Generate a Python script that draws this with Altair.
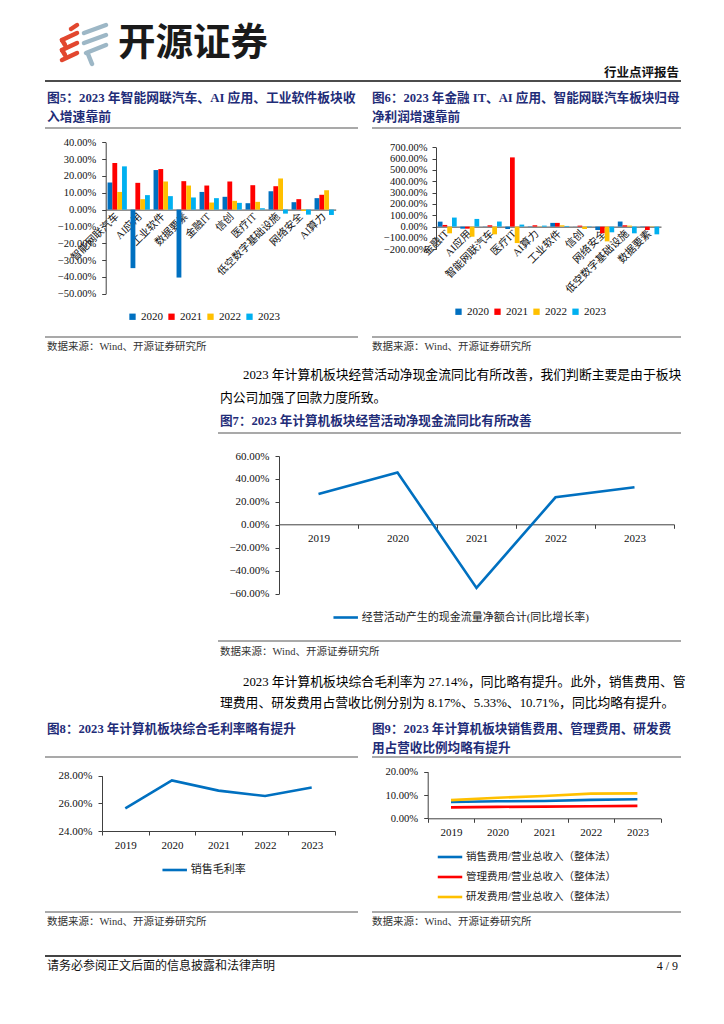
import altair as alt
import pandas as pd

# ---------------- data ----------------
years4 = ["2020", "2021", "2022", "2023"]
bar_colors = ["#0070C0", "#FF0000", "#FFC000", "#00B0F0"]

rev_cats = ["智能网联汽车", "AI应用", "工业软件", "数据要素", "金融IT", "信创",
            "医疗IT", "低空数字基础设施", "网络安全", "AI算力"]
rev_2020 = [16.1, -34.8, 23.5, -40.4, 10.5, 7.6, 3.8, 10.9, 4.4, 6.8]
rev_2021 = [27.7, 15.9, 24.1, 16.9, 14.3, 16.7, 14.5, 13.9, 6.2, 8.8]
rev_2022 = [10.5, 6.2, 16.7, 14.3, 4.2, 5.2, 4.6, 18.5, -0.8, 11.5]
rev_2023 = [25.7, 8.6, 8.0, 7.2, 6.8, 4.0, 0.8, -2.4, -3.0, -3.2]

np_cats = ["金融IT", "AI应用", "智能网联汽车", "医疗IT", "AI算力", "工业软件",
           "信创", "网络安全", "低空数字基础设施", "数据要素"]
np_2020 = [44, -18, 2, -21, -3, 33, 1, -30, 45, 3]
np_2021 = [15, -18, 12, 611, 12, 33, 9, -59, 12, -30]
np_2022 = [-59, -89, -68, -145, -2, 12, -21, -130, 9, -3]
np_2023 = [80, 68, 45, 18, 9, 6, -3, -50, -59, -68]

years5 = ["2019", "2020", "2021", "2022", "2023"]
cash_name = "经营活动产生的现金流量净额合计(同比增长率)"
cash_growth = [26.9, 45.7, -55.0, 24.0, 32.8]
gm_name = "销售毛利率"
gross_margin = [25.64, 27.66, 26.92, 26.53, 27.14]
ratio_names = ["销售费用/营业总收入（整体法）", "管理费用/营业总收入（整体法）", "研发费用/营业总收入（整体法）"]
ratio_colors = ["#0070C0", "#FF0000", "#FFC000"]
sales_ratio = [7.0, 7.3, 7.4, 7.9, 8.17]
admin_ratio = [4.7, 4.9, 5.0, 5.2, 5.33]
rd_ratio = [7.8, 8.8, 9.6, 10.6, 10.71]

# ---------------- texts ----------------
brand = "开源证券"
report_type = "行业点评报告"
t5 = ["图5：2023 年智能网联汽车、AI 应用、工业软件板块收", "入增速靠前"]
t6 = ["图6：2023 年金融 IT、AI 应用、智能网联汽车板块归母", "净利润增速靠前"]
t7 = "图7：2023 年计算机板块经营活动净现金流同比有所改善"
t8 = "图8：2023 年计算机板块综合毛利率略有提升"
t9 = ["图9：2023  年计算机板块销售费用、管理费用、研发费", "用占营收比例均略有提升"]
p1 = ["2023 年计算机板块经营活动净现金流同比有所改善，我们判断主要是由于板块", "内公司加强了回款力度所致。"]
p2 = ["2023 年计算机板块综合毛利率为 27.14%，同比略有提升。此外，销售费用、管",
      "理费用、研发费用占营收比例分别为 8.17%、5.33%、10.71%，同比均略有提升。"]
source = "数据来源：Wind、开源证券研究所"
footer_l = "请务必参阅正文后面的信息披露和法律声明"
footer_r = "4 / 9"

# ---------------- layout helpers ----------------
M = 8
W, H = 724 - 2 * M, 1024 - 2 * M


def X(v):
    return v - M


def Y(v):
    return v - M


SERIF = "Liberation Serif, Noto Sans CJK SC"
CJK = "Noto Sans CJK SC"
TBLUE = "#1F2D78"
AX = "#404040"
LAB = "#111111"
GREY = "#8c8c8c"
one = pd.DataFrame({"k": [0]})
PCT = "format(datum.value, '.2f') + '%'"


def text(x, y, s, size=12.8, bold=False, color="#000000", align="left", font=SERIF):
    return alt.Chart(one).mark_text(
        align=align, baseline="middle", fontSize=size,
        fontWeight="bold" if bold else "normal", color=color, font=font
    ).encode(x=alt.value(X(x)), y=alt.value(Y(y)), text=alt.value(s))


def hline(x0, x1, y, color=GREY, w=1.5):
    return alt.Chart(one).mark_rule(color=color, strokeWidth=w).encode(
        x=alt.value(X(x0)), x2=alt.value(X(x1)), y=alt.value(Y(y)))


def seg(x0, y0, x1, y1, color, w):
    return alt.Chart(one).mark_rule(color=color, strokeWidth=w, strokeCap="round").encode(
        x=alt.value(X(x0)), x2=alt.value(X(x1)), y=alt.value(Y(y0)), y2=alt.value(Y(y1)))


def y_axis(xpos, values, fs, pad):
    return alt.Axis(orient="left", offset=-X(xpos), values=values, labelExpr=PCT, title=None,
                    grid=False, tickSize=4, labelPadding=pad, labelFont=SERIF, labelFontSize=fs,
                    labelColor=LAB, domainColor=AX, tickColor=AX)


def bar_panel(cats, vals, x0, x1, ytop, ybot, lo, hi, step, fs_y, fs_x, pad, legx, legy):
    rows = []
    for i, c in enumerate(cats):
        for yr, arr in zip(years4, vals):
            rows.append({"cat": c, "year": yr, "v": arr[i]})
    df = pd.DataFrame(rows)
    yzero = ybot - (0 - lo) / (hi - lo) * (ybot - ytop)
    ticks = list(range(lo, hi + 1, step))
    return alt.Chart(df).mark_bar().encode(
        x=alt.X("cat:N", sort=cats,
                scale=alt.Scale(range=[X(x0), X(x1)], paddingInner=0.16, paddingOuter=0.08),
                axis=alt.Axis(orient="bottom", offset=Y(yzero) - H, title=None, ticks=False,
                              labelAngle=315, labelAlign="right", labelBaseline="middle",
                              labelPadding=5, labelFont=SERIF, labelFontSize=fs_x, labelColor=LAB,
                              domainColor=AX, labelOverlap=False, labelLimit=0)),
        xOffset=alt.XOffset("year:N", sort=years4),
        y=alt.Y("v:Q", scale=alt.Scale(domain=[lo, hi], range=[Y(ybot), Y(ytop)], nice=False, zero=False),
                axis=y_axis(x0, ticks, fs_y, pad)),
        color=alt.Color("year:N", sort=years4,
                        scale=alt.Scale(domain=years4, range=bar_colors),
                        legend=alt.Legend(orient="none", legendX=X(legx), legendY=Y(legy),
                                          direction="horizontal", title=None, symbolType="square",
                                          symbolSize=40, symbolStrokeWidth=0, labelFont=SERIF,
                                          labelFontSize=11, labelColor=LAB, columnPadding=3,
                                          labelOffset=3, padding=0)),
    )


def line_panel(names, series, colors, x0, x1, ytop, ybot, lo, hi, yvals, xaxis_y,
               fs_y, fs_x, pad, legx, legy, fs_leg, row_pad=0):
    rows = []
    for n, arr in zip(names, series):
        for yr, v in zip(years5, arr):
            rows.append({"s": n, "year": yr, "v": v})
    df = pd.DataFrame(rows)
    return alt.Chart(df).mark_line(strokeWidth=2.6).encode(
        x=alt.X("year:N", sort=years5, bandPosition=0.5,
                scale=alt.Scale(type="band", range=[X(x0), X(x1)], paddingInner=0, paddingOuter=0),
                axis=alt.Axis(orient="bottom", offset=Y(xaxis_y) - H, title=None, tickBand="extent",
                              tickSize=4, labelPadding=4, labelAngle=0, labelFont=SERIF,
                              labelFontSize=fs_x, labelColor=LAB, domainColor=AX, tickColor=AX)),
        y=alt.Y("v:Q", scale=alt.Scale(domain=[lo, hi], range=[Y(ybot), Y(ytop)], nice=False, zero=False),
                axis=y_axis(x0, yvals, fs_y, pad)),
        color=alt.Color("s:N", sort=names, scale=alt.Scale(domain=names, range=colors),
                        legend=alt.Legend(orient="none", legendX=X(legx), legendY=Y(legy),
                                          direction="vertical", title=None, symbolType="stroke",
                                          symbolSize=600, symbolStrokeWidth=2.6, labelFont=SERIF,
                                          labelFontSize=fs_leg, labelColor="#222222", labelOffset=2,
                                          rowPadding=row_pad, padding=0, labelLimit=0)),
    )


layers = []

# header: logo + brand
RED, LG = "#E2472F", "#9DB7C6"
for (a, b, c, d) in [(71, 29, 77, 25), (62, 40, 77, 33), (62, 50, 77, 43), (62, 60, 77, 53),
                     (62, 40, 65, 45), (62, 50, 65, 55)]:
    layers.append(seg(a, b, c, d, RED, 4.5))
for (a, b, c, d) in [(84, 33, 106, 25), (84, 43, 106, 35), (86, 53, 106, 45), (88, 54, 92, 64)]:
    layers.append(seg(a, b, c, d, LG, 4.5))
layers.append(text(118, 44, brand, size=37.5, bold=True, color="#1a1a1a", font=CJK))
layers.append(text(679, 73, report_type, size=12.5, bold=True, color="#111111", align="right"))
layers.append(hline(45, 681, 81, color="#111111", w=1.6))

# figure 5 / 6 titles
layers += [text(47, 98, t5[0], 12.8, True, TBLUE), text(47, 117, t5[1], 12.8, True, TBLUE),
           text(372, 98, t6[0], 12.6, True, TBLUE), text(372, 117, t6[1], 12.6, True, TBLUE),
           hline(45, 358, 128), hline(372, 681, 128)]

layers.append(bar_panel(rev_cats, [rev_2020, rev_2021, rev_2022, rev_2023],
                        105.7, 335.7, 142.3, 293.7, -50, 40, 10, 10.5, 10.4, 6, 127, 311))
layers.append(bar_panel(np_cats, [np_2020, np_2021, np_2022, np_2023],
                        436, 661, 147.3, 249.3, -200, 700, 100, 10.5, 10.5, 5, 453, 306))

layers += [hline(45, 358, 337), hline(372, 681, 337),
           text(47, 347, source, 10.5, color="#333333"), text(372, 347, source, 10.5, color="#333333")]

# paragraph 1 and figure 7
layers += [text(243, 375, p1[0]), text(220, 398, p1[1]),
           text(220, 421, t7, 12.6, True, TBLUE), hline(218, 681, 433)]
layers.append(line_panel([cash_name], [cash_growth], ["#0070C0"], 279, 674, 456, 593.7, -60, 60,
                         [-60, -40, -20, 0, 20, 40, 60], 524.3, 11, 11, 6, 331.7, 603.5, 11))
layers += [hline(218, 681, 641), text(220, 652, source, 10.5, color="#333333")]

# paragraph 2 and figures 8/9
layers += [text(243, 682, p2[0]), text(220, 703, p2[1]),
           text(47, 729, t8, 12.6, True, TBLUE),
           text(372, 729, t9[0], 12.6, True, TBLUE), text(372, 748, t9[1], 12.6, True, TBLUE),
           hline(45, 358, 757), hline(372, 681, 757)]
layers.append(line_panel([gm_name], [gross_margin], ["#0070C0"], 102, 335, 775.7, 831, 24, 28,
                         [24, 26, 28], 831, 11, 11, 6, 160.7, 856, 11))
layers.append(line_panel(ratio_names, [sales_ratio, admin_ratio, rd_ratio], ratio_colors,
                         427.7, 660.7, 771.7, 818.3, 0, 20, [0, 10, 20], 818.3, 10.6, 11, 6,
                         436, 843, 10.5, row_pad=-6))
layers += [hline(45, 358, 912), hline(372, 681, 912),
           text(47, 922, source, 10.5, color="#333333"), text(372, 922, source, 10.5, color="#333333")]

# footer
layers += [hline(45, 681, 956, color="#444444", w=2),
           text(47, 966, footer_l, 12, color="#111111"),
           text(678, 966, footer_r, 12, color="#111111", align="right")]

chart = alt.layer(*layers).resolve_scale(
    x="independent", y="independent", color="independent", xOffset="independent"
).resolve_axis(x="independent", y="independent").resolve_legend(color="independent").properties(
    width=W, height=H, autosize=alt.AutoSizeParams(type="none"), padding=0
).configure_view(strokeWidth=0)

chart.save("out.html", embed_options={"renderer": "svg", "actions": False})
